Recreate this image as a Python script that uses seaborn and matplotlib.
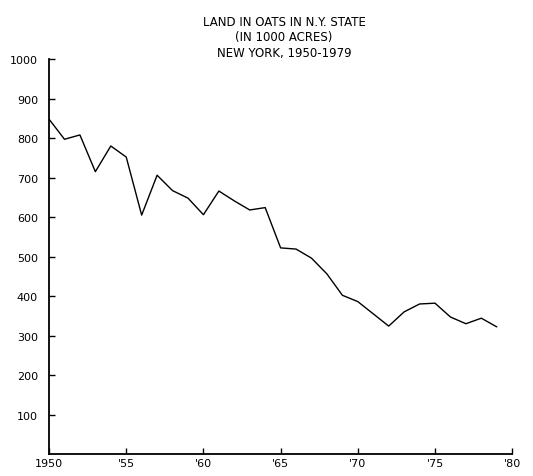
import matplotlib
matplotlib.use("Agg")
import matplotlib.pyplot as plt
import seaborn as sns
import pandas as pd

years = list(range(1950, 1980))
acres = [848, 797, 808, 715, 780, 752, 605, 706, 667, 648,
         606, 666, 641, 618, 624, 522, 519, 496, 456, 402,
         386, 355, 324, 360, 380, 382, 347, 330, 344, 322]
xticks = [1950, 1955, 1960, 1965, 1970, 1975, 1980]
xticklabels = ["1950", "'55", "'60", "'65", "'70", "'75", "'80"]
yticks = [100, 200, 300, 400, 500, 600, 700, 800, 900, 1000]
title = "LAND IN OATS IN N.Y. STATE\n(IN 1000 ACRES)\nNEW YORK, 1950-1979"

sns.set_style("ticks")
plt.rcParams['font.family'] = ['DejaVu Sans']

df = pd.DataFrame({"year": years, "acres": acres})
fig = plt.figure(figsize=(5.33, 4.77), dpi=100)
ax = fig.add_axes([0.092, 0.046, 0.869, 0.828])
sns.lineplot(data=df, x="year", y="acres", color="black", linewidth=1.0, ax=ax)
ax.set_xlim(1950, 1980)
ax.set_ylim(0, 1000)
ax.set_xticks(xticks)
ax.set_xticklabels(xticklabels)
ax.set_yticks(yticks)
ax.set_xlabel("")
ax.set_ylabel("")
ax.tick_params(direction="in", length=4, width=1, labelsize=8, colors="black", pad=3)
ax.tick_params(axis="y", pad=8)
for s in ["top", "right"]:
    ax.spines[s].set_visible(False)
for s in ["left", "bottom"]:
    ax.spines[s].set_linewidth(1.3)
    ax.spines[s].set_color("black")
fig.text(0.533, 0.967, title, ha="center", va="top", fontsize=8.5,
         linespacing=1.25, color="black")
fig.savefig("out.png", dpi=100)
